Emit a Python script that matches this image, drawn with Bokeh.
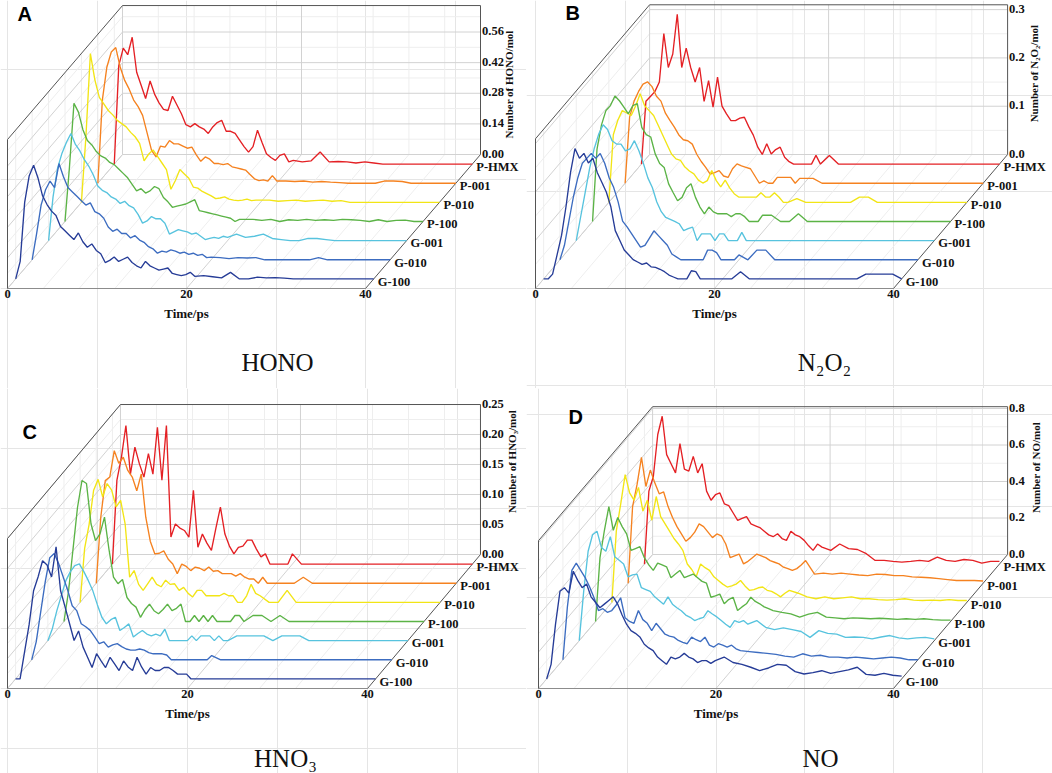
import math
from bokeh.plotting import figure
from bokeh.layouts import gridplot
from bokeh.models import Range1d
from bokeh.embed import file_html
from bokeh.resources import INLINE
from bokeh.core.properties import value

# ---------------- data ----------------
TIME = [i / 2 for i in range(41)] + [float(t) for t in range(21, 41)]
TIME_TICKS = [0, 20, 40]
SERIES = ["G-100", "G-010", "G-001", "P-100", "P-010", "P-001", "P-HMX"]
COLORS = ["#263c97", "#3c6cc0", "#57c3de", "#5bb346", "#f2e516", "#f58220", "#e42024"]

HONO_TICKS = [0.00, 0.14, 0.28, 0.42, 0.56]
N2O2_TICKS = [0.0, 0.1, 0.2, 0.3]
HNO3_TICKS = [0.00, 0.05, 0.10, 0.15, 0.20, 0.25]
NO_TICKS = [0.0, 0.2, 0.4, 0.6, 0.8]

HONO_G100 = [0, 0.08, 0.35, 0.47, 0.52, 0.46, 0.38, 0.34, 0.31, 0.29, 0.24, 0.22, 0.20, 0.18, 0.21, 0.17, 0.145, 0.16, 0.13, 0.115,
             0.075, 0.085, 0.10, 0.08, 0.09, 0.10, 0.075, 0.06, 0.05, 0.08, 0.06, 0.05, 0.04, 0.045, 0.05, 0.025, 0.02, 0.015, 0.02, 0.03, 0.012,
             0.015, 0.01, 0.005, 0.03, 0, 0, 0.008, 0.005, 0.006, 0.004, 0, 0, 0, 0, 0, 0, 0, 0, 0, 0]
HONO_G010 = [0, 0.12, 0.25, 0.32, 0.36, 0.33, 0.44, 0.38, 0.33, 0.31, 0.29, 0.27, 0.25, 0.26, 0.22, 0.21, 0.19, 0.15, 0.13, 0.14,
             0.12, 0.12, 0.10, 0.11, 0.09, 0.08, 0.06, 0.05, 0.03, 0.04, 0.035, 0.045, 0.04, 0.03, 0.035, 0.025, 0.03, 0.02, 0.025, 0.01, 0.012,
             0.01, 0.005, 0.01, 0.008, 0.01, 0, 0, 0, 0, 0, 0, 0.01, 0, 0, 0, 0, 0, 0, 0, 0]
HONO_G001 = [0, 0.2, 0.33, 0.40, 0.45, 0.49, 0.44, 0.41, 0.37, 0.34, 0.30, 0.25, 0.23, 0.22, 0.20, 0.19, 0.17, 0.18, 0.16, 0.15,
             0.12, 0.08, 0.09, 0.11, 0.10, 0.10, 0.08, 0.03, 0.04, 0.05, 0.045, 0.04, 0.03, 0.035, 0.02, 0.005, 0.01, 0.015, 0.01, 0.02, 0.015,
             0.03, 0.015, 0.02, 0.03, 0.01, 0.005, 0, 0, 0.01, 0.01, 0.005, 0, 0, 0, 0, 0, 0, 0, 0, 0]
HONO_P100 = [0, 0.25, 0.54, 0.50, 0.42, 0.37, 0.35, 0.32, 0.30, 0.29, 0.27, 0.26, 0.24, 0.22, 0.20, 0.17, 0.14, 0.15, 0.13, 0.14,
             0.16, 0.15, 0.11, 0.09, 0.065, 0.07, 0.075, 0.08, 0.09, 0.10, 0.05, 0.045, 0.04, 0.035, 0.03, 0.025, 0.02, 0.015, 0, 0.01, 0.01,
             0.01, 0.005, 0.01, 0, 0.008, 0.005, 0.01, 0.005, 0.008, 0.005, 0.01, 0.008, 0.005, 0, 0.008, 0, 0.005, 0.006, 0, 0]
HONO_P010 = [0, 0.30, 0.68, 0.56, 0.48, 0.45, 0.42, 0.40, 0.375, 0.36, 0.345, 0.32, 0.30, 0.27, 0.19, 0.22, 0.24, 0.21, 0.18, 0.15,
             0.06, 0.10, 0.15, 0.13, 0.11, 0.07, 0.065, 0.05, 0.04, 0.03, 0.017, 0.02, 0.025, 0.015, 0.01, 0.008, 0.01, 0.015, 0.008, 0.01, 0.01,
             0.01, 0.005, 0.008, 0.01, 0.005, 0.008, 0.01, 0.005, 0.008, 0, 0, 0, 0, 0, 0, 0, 0, 0, 0, 0]
HONO_P001 = [0, 0.38, 0.53, 0.60, 0.62, 0.53, 0.47, 0.43, 0.38, 0.35, 0.31, 0.23, 0.15, 0.12, 0.17, 0.165, 0.195, 0.18, 0.18, 0.17,
             0.16, 0.165, 0.13, 0.10, 0.12, 0.11, 0.09, 0.09, 0.085, 0.09, 0.075, 0.07, 0.065, 0.06, 0.04, 0.02, 0.012, 0.015, 0.01, 0.035, 0.01,
             0.01, 0.008, 0.01, 0.005, 0.008, 0.005, 0.003, 0, 0, 0, 0, 0.01, 0.01, 0.008, 0, 0, 0, 0, 0, 0]
HONO_PHMX = [0, 0.45, 0.53, 0.50, 0.58, 0.42, 0.36, 0.30, 0.38, 0.32, 0.28, 0.25, 0.245, 0.31, 0.27, 0.23, 0.18, 0.17, 0.185, 0.17,
             0.16, 0.14, 0.17, 0.19, 0.20, 0.15, 0.15, 0.14, 0.11, 0.08, 0.055, 0.08, 0.155, 0.10, 0.047, 0.03, 0.017, 0.04, 0.047, 0.01, 0.017,
             0.01, 0.015, 0.055, 0.01, 0.012, 0.01, 0.005, 0.01, 0.005, 0, 0, 0, 0, 0, 0, 0, 0, 0, 0, 0]

N2O2_G100 = [0, 0, 0.01, 0.05, 0.09, 0.15, 0.22, 0.27, 0.25, 0.26, 0.24, 0.25, 0.22, 0.20, 0.18, 0.15, 0.10, 0.08, 0.06, 0.05,
             0.04, 0.035, 0.03, 0.033, 0.025, 0.024, 0.02, 0.015, 0.008, 0.004, 0, 0, 0, 0.017, 0.015, 0, 0, 0, 0, 0, 0,
             0, 0.015, 0, 0, 0, 0, 0, 0, 0, 0, 0, 0, 0, 0, 0, 0.01, 0.01, 0.01, 0.01, 0]
N2O2_G010 = [0, 0.03, 0.08, 0.13, 0.17, 0.20, 0.21, 0.22, 0.21, 0.22, 0.20, 0.17, 0.15, 0.12, 0.08, 0.068, 0.054, 0.04, 0.026, 0.03,
             0.045, 0.06, 0.05, 0.04, 0.03, 0.012, 0.006, 0, 0, 0, 0, 0, 0, 0.02, 0.02, 0.015, 0, 0, 0, 0, 0.01,
             0, 0.02, 0.02, 0, 0, 0, 0, 0, 0, 0, 0, 0, 0, 0, 0, 0, 0, 0, 0, 0]
N2O2_G001 = [0, 0.05, 0.10, 0.15, 0.19, 0.22, 0.24, 0.23, 0.207, 0.2, 0.2, 0.186, 0.19, 0.207, 0.186, 0.16, 0.13, 0.11, 0.08, 0.06,
             0.048, 0.044, 0.04, 0.035, 0.021, 0.025, 0.028, 0, 0.014, 0.014, 0.014, 0, 0.014, 0.014, 0, 0, 0, 0.017, 0, 0, 0,
             0, 0, 0, 0, 0, 0, 0, 0, 0, 0, 0, 0, 0, 0, 0, 0, 0, 0, 0, 0]
N2O2_P100 = [0, 0.15, 0.20, 0.23, 0.24, 0.26, 0.25, 0.237, 0.223, 0.24, 0.244, 0.195, 0.18, 0.175, 0.14, 0.12, 0.112, 0.078, 0.06, 0.043,
             0.05, 0.07, 0.078, 0.05, 0.03, 0.016, 0.03, 0.02, 0.016, 0.016, 0.016, 0.01, 0.016, 0.016, 0.01, 0, 0, 0, 0.013, 0.013, 0.013,
             0, 0, 0.016, 0, 0, 0, 0, 0, 0, 0, 0, 0, 0, 0, 0, 0, 0, 0, 0, 0]
N2O2_P010 = [0, 0.14, 0.17, 0.19, 0.185, 0.18, 0.2, 0.225, 0.2, 0.19, 0.18, 0.16, 0.14, 0.12, 0.10, 0.09, 0.087, 0.073, 0.065, 0.059,
             0.046, 0.04, 0.045, 0.066, 0.045, 0.032, 0.046, 0.03, 0.018, 0.011, 0.011, 0.011, 0.011, 0.011, 0.02, 0.011, 0.011, 0.02, 0.011, 0, 0,
             0.008, 0, 0, 0, 0, 0, 0, 0.011, 0.011, 0, 0, 0, 0, 0, 0, 0, 0, 0, 0, 0]
N2O2_P001 = [0, 0.137, 0.17, 0.19, 0.205, 0.21, 0.2, 0.18, 0.17, 0.145, 0.13, 0.116, 0.10, 0.09, 0.088, 0.081, 0.06, 0.045, 0.033, 0.019,
             0.022, 0.026, 0.015, 0.012, 0.03, 0.04, 0.036, 0.033, 0.03, 0.015, 0, 0.005, 0, 0, 0.012, 0.012, 0.012, 0.012, 0, 0.01, 0.01,
             0.01, 0, 0, 0, 0, 0, 0, 0, 0, 0, 0, 0, 0, 0, 0, 0, 0, 0, 0, 0]
N2O2_PHMX = [0, 0.13, 0.14, 0.15, 0.17, 0.27, 0.2, 0.228, 0.31, 0.2, 0.24, 0.2, 0.17, 0.2, 0.13, 0.173, 0.118, 0.18, 0.12, 0.104,
             0.09, 0.09, 0.095, 0.097, 0.077, 0.06, 0.035, 0.02, 0.042, 0.021, 0.03, 0.035, 0.014, 0.005, 0, 0, 0, 0, 0, 0.018, 0,
             0.018, 0, 0, 0, 0, 0, 0, 0, 0, 0, 0, 0, 0, 0, 0, 0, 0, 0, 0, 0]

HNO3_G100 = [0, 0, 0.045, 0.09, 0.147, 0.17, 0.197, 0.19, 0.17, 0.22, 0.147, 0.12, 0.092, 0.064, 0.08, 0.053, 0.036, 0.019, 0.042, 0.03,
             0.019, 0.036, 0.025, 0.014, 0.03, 0.02, 0.014, 0.036, 0.02, 0.008, 0.019, 0.014, 0.014, 0.019, 0.019, 0.014, 0.008, 0.008, 0.008, 0, 0,
             0, 0, 0, 0, 0, 0, 0, 0, 0, 0, 0, 0, 0, 0, 0, 0, 0, 0, 0, 0]
HNO3_G010 = [0, 0.03, 0.08, 0.13, 0.17, 0.177, 0.16, 0.138, 0.116, 0.09, 0.082, 0.06, 0.055, 0.049, 0.038, 0.027, 0.03, 0.021, 0.025, 0.027,
             0.022, 0.018, 0.016, 0.016, 0.018, 0.016, 0.012, 0.01, 0.01, 0.01, 0.008, 0, 0, 0, 0, 0, 0, 0, 0, 0, 0.007,
             0, 0, 0, 0, 0, 0, 0, 0, 0, 0, 0, 0, 0, 0, 0, 0, 0, 0, 0, 0]
HNO3_G001 = [0, 0.02, 0.05, 0.075, 0.1, 0.115, 0.125, 0.128, 0.115, 0.1, 0.083, 0.06, 0.039, 0.028, 0.035, 0.039, 0.017, 0.022, 0.028, 0.006,
             0.012, 0.017, 0.011, 0.008, 0.011, 0.008, 0.019, 0, 0, 0, 0, 0, 0.008, 0, 0.008, 0.008, 0.008, 0, 0.008, 0, 0,
             0.008, 0.008, 0.008, 0.008, 0, 0.008, 0.008, 0.008, 0, 0, 0, 0, 0, 0, 0, 0, 0, 0, 0, 0]
HNO3_P100 = [0, 0.05, 0.12, 0.19, 0.235, 0.23, 0.163, 0.135, 0.146, 0.174, 0.12, 0.074, 0.063, 0.07, 0.04, 0.03, 0.024, 0.007, 0.02, 0.029,
             0.018, 0.013, 0.02, 0.029, 0.018, 0.022, 0.029, 0, 0, 0.01, 0, 0.01, 0, 0.01, 0, 0, 0, 0, 0.01, 0.01, 0,
             0.01, 0.01, 0, 0.01, 0, 0, 0, 0, 0, 0, 0, 0, 0, 0, 0, 0, 0, 0, 0, 0]
HNO3_P010 = [0, 0.09, 0.13, 0.187, 0.205, 0.176, 0.198, 0.187, 0.159, 0.17, 0.131, 0.042, 0.053, 0.03, 0.02, 0.031, 0.042, 0.03, 0.026, 0.037,
             0.03, 0.031, 0.02, 0.025, 0.015, 0.009, 0.02, 0.02, 0.011, 0.011, 0.011, 0.011, 0.015, 0.011, 0.011, 0, 0, 0.011, 0.03, 0.015, 0.011,
             0, 0, 0.02, 0, 0, 0, 0, 0, 0, 0, 0, 0, 0, 0, 0, 0, 0, 0, 0, 0]
HNO3_P001 = [0, 0.11, 0.171, 0.177, 0.221, 0.2, 0.21, 0.188, 0.177, 0.154, 0.182, 0.11, 0.07, 0.049, 0.05, 0.054, 0.04, 0.032, 0.016, 0.032,
             0.028, 0.021, 0.027, 0.025, 0.021, 0.027, 0.02, 0.021, 0.016, 0.016, 0.016, 0.012, 0.016, 0.01, 0.007, 0.007, 0, 0.01, 0, 0, 0,
             0, 0, 0.01, 0, 0, 0, 0, 0, 0, 0, 0, 0, 0, 0, 0, 0, 0, 0, 0, 0]
HNO3_PHMX = [0, 0.14, 0.178, 0.231, 0.15, 0.195, 0.167, 0.145, 0.184, 0.15, 0.228, 0.14, 0.231, 0.045, 0.067, 0.06, 0.056, 0.045, 0.123, 0.028,
             0.05, 0.035, 0.023, 0.06, 0.095, 0.05, 0.03, 0.017, 0.028, 0.03, 0.04, 0.04, 0.025, 0.012, 0.017, 0, 0, 0, 0, 0, 0.017,
             0, 0, 0, 0, 0, 0, 0, 0, 0, 0, 0, 0, 0, 0, 0, 0, 0, 0, 0, 0]

NO_G100 = [0, 0.08, 0.3, 0.48, 0.50, 0.47, 0.59, 0.54, 0.50, 0.52, 0.45, 0.42, 0.39, 0.41, 0.43, 0.45, 0.41, 0.35, 0.30, 0.265,
           0.25, 0.23, 0.19, 0.17, 0.155, 0.12, 0.10, 0.08, 0.12, 0.11, 0.12, 0.14, 0.12, 0.11, 0.09, 0.10, 0.10, 0.085, 0.10, 0.11, 0.12,
           0.09, 0.08, 0.064, 0.046, 0.06, 0.08, 0.075, 0.04, 0.027, 0.035, 0.045, 0.03, 0.04, 0.05, 0.064, 0.025, 0.02, 0.03, 0.02, 0.015]
NO_G010 = [0, 0.29, 0.49, 0.53, 0.49, 0.45, 0.40, 0.34, 0.27, 0.28, 0.26, 0.27, 0.30, 0.34, 0.23, 0.21, 0.2, 0.27, 0.22, 0.2,
           0.16, 0.2, 0.17, 0.14, 0.13, 0.124, 0.106, 0.095, 0.088, 0.124, 0.11, 0.1, 0.124, 0.08, 0.07, 0.088, 0.08, 0.07, 0.08, 0.06, 0.05,
           0.045, 0.04, 0.035, 0.03, 0.02, 0.015, 0.033, 0.02, 0.025, 0.015, 0.015, 0.01, 0.015, 0.01, 0.005, 0.01, 0.015, 0.01, 0, 0]
NO_G001 = [0, 0.27, 0.49, 0.58, 0.6, 0.51, 0.49, 0.57, 0.46, 0.44, 0.42, 0.35, 0.36, 0.365, 0.29, 0.28, 0.27, 0.24, 0.22, 0.2,
           0.24, 0.2, 0.18, 0.164, 0.14, 0.128, 0.11, 0.12, 0.128, 0.164, 0.146, 0.13, 0.11, 0.09, 0.073, 0.11, 0.1, 0.11, 0.09, 0.1, 0.11,
           0.073, 0.06, 0.07, 0.06, 0.05, 0.018, 0.055, 0.04, 0.036, 0.018, 0.02, 0.018, 0.01, 0.02, 0.028, 0.015, 0.01, 0.015, 0.018, 0.01]
NO_P100 = [0, 0.35, 0.5, 0.63, 0.5, 0.57, 0.52, 0.48, 0.39, 0.40, 0.41, 0.35, 0.31, 0.28, 0.32, 0.31, 0.3, 0.24, 0.26, 0.28,
           0.24, 0.25, 0.26, 0.24, 0.22, 0.21, 0.133, 0.14, 0.15, 0.097, 0.12, 0.133, 0.06, 0.08, 0.097, 0.133, 0.11, 0.097, 0.08, 0.07, 0.06,
           0.05, 0.042, 0.024, 0.04, 0.05, 0.024, 0.02, 0.015, 0.02, 0.018, 0.015, 0.018, 0.015, 0.012, 0.015, 0.012, 0.015, 0.01, 0.008, 0.008]
NO_P010 = [0, 0.39, 0.54, 0.70, 0.60, 0.56, 0.63, 0.5, 0.56, 0.45, 0.58, 0.47, 0.43, 0.39, 0.35, 0.32, 0.285, 0.21, 0.18, 0.14,
           0.21, 0.19, 0.175, 0.14, 0.12, 0.1, 0.084, 0.09, 0.1, 0.12, 0.09, 0.066, 0.07, 0.08, 0.084, 0.066, 0.06, 0.047, 0.03, 0.05, 0.066,
           0.05, 0.03, 0.02, 0.03, 0.02, 0.025, 0.03, 0.02, 0.02, 0.015, 0.012, 0.015, 0.02, 0.012, 0.01, 0.012, 0.01, 0.015, 0.01, 0.01]
NO_P001 = [0, 0.42, 0.54, 0.69, 0.53, 0.62, 0.55, 0.49, 0.5, 0.42, 0.36, 0.31, 0.27, 0.23, 0.25, 0.28, 0.325, 0.31, 0.28, 0.25,
           0.27, 0.26, 0.215, 0.14, 0.15, 0.16, 0.106, 0.12, 0.14, 0.16, 0.15, 0.14, 0.124, 0.115, 0.106, 0.088, 0.08, 0.07, 0.08, 0.1, 0.124,
           0.05, 0.055, 0.05, 0.055, 0.05, 0.045, 0.042, 0.05, 0.048, 0.042, 0.042, 0.035, 0.033, 0.03, 0.025, 0.02, 0.015, 0.015, 0.015, 0.012]
NO_PHMX = [0, 0.4, 0.48, 0.71, 0.81, 0.6, 0.55, 0.5, 0.66, 0.52, 0.51, 0.59, 0.5, 0.55, 0.4, 0.35, 0.38, 0.39, 0.33, 0.32,
           0.28, 0.24, 0.25, 0.26, 0.22, 0.21, 0.2, 0.18, 0.16, 0.15, 0.166, 0.14, 0.13, 0.18, 0.16, 0.15, 0.13, 0.1, 0.075, 0.11, 0.093,
           0.075, 0.11, 0.085, 0.08, 0.057, 0.02, 0.02, 0.015, 0.011, 0.015, 0.02, 0.015, 0.038, 0.02, 0.015, 0.025, 0.02, 0.005, 0.015, 0.015]

# ---------------- layout / style ----------------
SERIF = value("Liberation Serif")
SANS = value("Liberation Sans")
NDEPTH = 7
MINOR_T = [4, 8, 12, 16, 24, 28, 32, 36]
BASE_FIX = 0.42  # em correction for SVG text baseline placement

PANELS = [
    dict(letter="A", caption="HONO", title="Number of HONO/mol", fmt="{:.2f}", ticks=HONO_TICKS, vtop=0.681,
         data=[HONO_G100, HONO_G010, HONO_G001, HONO_P100, HONO_P010, HONO_P001, HONO_PHMX],
         fig=(0, 0, 526, 388), origin=(7, 288), sx=8.95, sy=218.75, dx=16.43, dy=19.14,
         title_off=(33, -70), letter_pos=(17, 22), caption_pos=(277, 372)),
    dict(letter="B", caption="N\u2082O\u2082", title="Number of N\u2082O\u2082/mol", fmt="{:.1f}", ticks=N2O2_TICKS, vtop=0.31,
         data=[N2O2_G100, N2O2_G010, N2O2_G001, N2O2_P100, N2O2_P010, N2O2_P001, N2O2_PHMX],
         fig=(526, 0, 526, 388), origin=(535, 288), sx=8.95, sy=483.0, dx=16.3, dy=19.14,
         title_off=(31, -81), letter_pos=(39, 21), caption_pos=(298, 372)),
    dict(letter="C", caption="HNO\u2083", title="Number of HNO\u2083/mol", fmt="{:.2f}", ticks=HNO3_TICKS, vtop=0.25,
         data=[HNO3_G100, HNO3_G010, HNO3_G001, HNO3_P100, HNO3_P010, HNO3_P001, HNO3_PHMX],
         fig=(0, 388, 526, 385), origin=(7, 688), sx=9.0, sy=600.0, dx=16.14, dy=19.14,
         title_off=(36, -93), letter_pos=(22, 52), caption_pos=(285, 380)),
    dict(letter="D", caption="NO", title="Number of NO/mol", fmt="{:.1f}", ticks=NO_TICKS, vtop=0.81,
         data=[NO_G100, NO_G010, NO_G001, NO_P100, NO_P010, NO_P001, NO_PHMX],
         fig=(526, 388, 526, 385), origin=(538, 688), sx=8.875, sy=182.5, dx=16.3, dy=19.14,
         title_off=(33, -87), letter_pos=(42, 37), caption_pos=(294, 380)),
]


def make_panel(cfg):
    FX, FY, W, H = cfg["fig"]
    OX, OY = cfg["origin"]
    sx, sy, ddx, ddy = cfg["sx"], cfg["sy"], cfg["dx"], cfg["dy"]
    x0 = (FX - OX) / sx
    y1 = (OY - FY) / sy
    p = figure(width=W, height=H, x_range=Range1d(x0, x0 + W / sx), y_range=Range1d(y1 - H / sy, y1),
               output_backend="svg", toolbar_location=None, x_axis_location=None, y_axis_location=None,
               min_border=0, title=None, outline_line_color=None,
               background_fill_color="white", border_fill_color="white")

    def X(t, d, px=0.0):
        return t + d * ddx / sx + px / sx

    def Y(v, d, py=0.0):
        return v + d * ddy / sy - py / sy

    def seg(t0, d0, v0, t1, d1, v1):
        return [X(t0, d0), X(t1, d1)], [Y(v0, d0), Y(v1, d1)]

    def draw(segs, color, width=1.0):
        p.multi_line(xs=[s[0] for s in segs], ys=[s[1] for s in segs], line_color=color, line_width=width)

    ticks = cfg["ticks"]
    vtop = cfg["vtop"]
    step = ticks[1] - ticks[0]
    minor_v = [t + step / 2 for t in ticks if t + step / 2 < vtop]
    T_END = TIME_TICKS[-1]
    D = NDEPTH

    minor = []
    for v in minor_v:
        minor.append(seg(0, D, v, T_END, D, v))
        minor.append(seg(0, 0, v, 0, D, v))
    for t in MINOR_T:
        minor.append(seg(t, D, 0, t, D, vtop))
        minor.append(seg(t, 0, 0, t, D, 0))
    for k in range(NDEPTH):
        minor.append(seg(0, k + 0.5, 0, 0, k + 0.5, vtop))
    draw(minor, "#eeeeee")

    major = []
    for v in ticks:
        major.append(seg(0, D, v, T_END, D, v))
        major.append(seg(0, 0, v, 0, D, v))
    for t in [0, 20]:
        major.append(seg(t, D, 0, t, D, vtop))
        major.append(seg(t, 0, 0, t, D, 0))
    draw(major, "#d2d2d2")

    draw([seg(0, 0, 0, T_END, 0, 0)], "#8c8c8c")

    edges = [seg(0, 0, 0, 0, 0, vtop), seg(0, 0, vtop, 0, D, vtop), seg(0, D, vtop, T_END, D, vtop),
             seg(T_END, D, 0, T_END, D, vtop), seg(T_END, 0, 0, T_END, D, 0)]
    draw(edges, "#555555")

    for k in range(NDEPTH - 1, -1, -1):
        vals = cfg["data"][k]
        n = min(len(vals), len(TIME))
        d = k + 0.5
        p.line(x=[X(TIME[i], d) for i in range(n)], y=[Y(vals[i], d) for i in range(n)],
               line_color=COLORS[k], line_width=1.35)

    common = dict(text_font=SERIF, text_font_style="bold", text_color="#111111")
    f = 12.5
    p.text(x=[X(t, 0) for t in TIME_TICKS], y=[Y(0, 0, 10.5 - BASE_FIX * f) for t in TIME_TICKS],
           text=[str(t) for t in TIME_TICKS], text_align="center", text_baseline="alphabetic",
           text_font_size="12.5px", **common)
    p.text(x=[X(20, 0)], y=[Y(0, 0, 30 - BASE_FIX * 13)], text=["Time/ps"], text_align="center",
           text_baseline="alphabetic", text_font_size="13px", **common)
    p.text(x=[X(T_END, D, 1.5) for v in ticks], y=[Y(v, D, 4.3 - BASE_FIX * f) for v in ticks],
           text=[cfg["fmt"].format(v) for v in ticks], text_align="left", text_baseline="alphabetic",
           text_font_size="12.5px", **common)
    p.text(x=[X(T_END, k + 0.5, 4) for k in range(NDEPTH)],
           y=[Y(0, k + 0.5, 8 - BASE_FIX * f) for k in range(NDEPTH)],
           text=SERIES, text_align="left", text_baseline="alphabetic", text_font_size="12.5px", **common)
    tx, ty = cfg["title_off"]
    p.text(x=[X(T_END, D, tx - BASE_FIX * 11)], y=[Y(0, D, ty)], text=[cfg["title"]], angle=math.pi / 2,
           text_align="center", text_baseline="middle", text_font_size="11px", **common)
    lx, ly = cfg["letter_pos"]
    p.text(x=[x0 + lx / sx], y=[y1 - (ly - BASE_FIX * 20) / sy], text=[cfg["letter"]], text_font=SANS,
           text_font_style="bold", text_font_size="20px", text_color="#000000", text_align="left",
           text_baseline="alphabetic")
    cx, cy = cfg["caption_pos"]
    p.text(x=[x0 + cx / sx], y=[y1 - (cy - BASE_FIX * 25) / sy], text=[cfg["caption"]], text_font=SERIF,
           text_font_size="25px", text_color="#111111", text_align="center", text_baseline="alphabetic")
    return p


plots = [make_panel(c) for c in PANELS]
grid = gridplot([[plots[0], plots[1]], [plots[2], plots[3]]], toolbar_location=None)
open("out.html", "w").write(file_html(grid, INLINE))
